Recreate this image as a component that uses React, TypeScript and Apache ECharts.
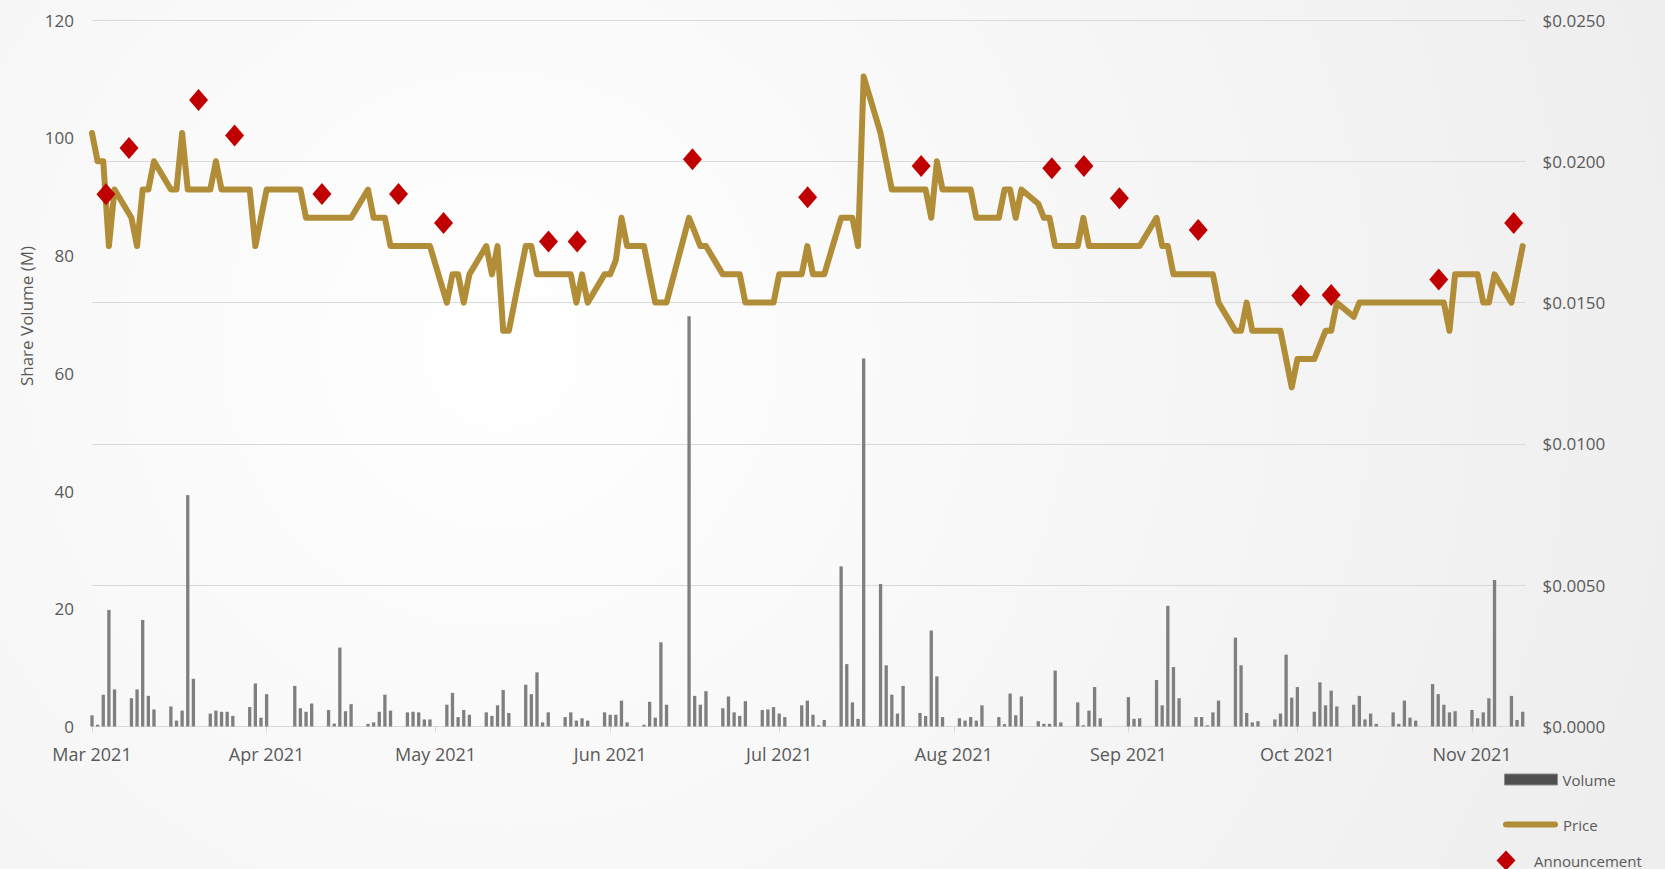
import React, { useEffect, useRef } from "react";
import * as echarts from "echarts";

// ---- Data ----
const tradeDates: string[] = [
  "2021-03-01", "2021-03-02", "2021-03-03", "2021-03-04", "2021-03-05",
  "2021-03-08", "2021-03-09", "2021-03-10", "2021-03-11", "2021-03-12",
  "2021-03-15", "2021-03-16", "2021-03-17", "2021-03-18", "2021-03-19",
  "2021-03-22", "2021-03-23", "2021-03-24", "2021-03-25", "2021-03-26",
  "2021-03-29", "2021-03-30", "2021-03-31", "2021-04-01",
  "2021-04-06", "2021-04-07", "2021-04-08", "2021-04-09",
  "2021-04-12", "2021-04-13", "2021-04-14", "2021-04-15", "2021-04-16",
  "2021-04-19", "2021-04-20", "2021-04-21", "2021-04-22", "2021-04-23",
  "2021-04-26", "2021-04-27", "2021-04-28", "2021-04-29", "2021-04-30",
  "2021-05-03", "2021-05-04", "2021-05-05", "2021-05-06", "2021-05-07",
  "2021-05-10", "2021-05-11", "2021-05-12", "2021-05-13", "2021-05-14",
  "2021-05-17", "2021-05-18", "2021-05-19", "2021-05-20", "2021-05-21",
  "2021-05-24", "2021-05-25", "2021-05-26", "2021-05-27", "2021-05-28",
  "2021-05-31", "2021-06-01", "2021-06-02", "2021-06-03", "2021-06-04",
  "2021-06-07", "2021-06-08", "2021-06-09", "2021-06-10", "2021-06-11",
  "2021-06-15", "2021-06-16", "2021-06-17", "2021-06-18",
  "2021-06-21", "2021-06-22", "2021-06-23", "2021-06-24", "2021-06-25",
  "2021-06-28", "2021-06-29", "2021-06-30", "2021-07-01", "2021-07-02",
  "2021-07-05", "2021-07-06", "2021-07-07", "2021-07-08", "2021-07-09",
  "2021-07-12", "2021-07-13", "2021-07-14", "2021-07-15", "2021-07-16",
  "2021-07-19", "2021-07-20", "2021-07-21", "2021-07-22", "2021-07-23",
  "2021-07-26", "2021-07-27", "2021-07-28", "2021-07-29", "2021-07-30",
  "2021-08-02", "2021-08-03", "2021-08-04", "2021-08-05", "2021-08-06",
  "2021-08-09", "2021-08-10", "2021-08-11", "2021-08-12", "2021-08-13",
  "2021-08-16", "2021-08-17", "2021-08-18", "2021-08-19", "2021-08-20",
  "2021-08-23", "2021-08-24", "2021-08-25", "2021-08-26", "2021-08-27",
  "2021-09-01", "2021-09-02", "2021-09-03",
  "2021-09-06", "2021-09-07", "2021-09-08", "2021-09-09", "2021-09-10",
  "2021-09-13", "2021-09-14", "2021-09-15", "2021-09-16", "2021-09-17",
  "2021-09-20", "2021-09-21", "2021-09-22", "2021-09-23", "2021-09-24",
  "2021-09-27", "2021-09-28", "2021-09-29", "2021-09-30", "2021-10-01",
  "2021-10-04", "2021-10-05", "2021-10-06", "2021-10-07", "2021-10-08",
  "2021-10-11", "2021-10-12", "2021-10-13", "2021-10-14", "2021-10-15",
  "2021-10-18", "2021-10-19", "2021-10-20", "2021-10-21", "2021-10-22",
  "2021-10-25", "2021-10-26", "2021-10-27", "2021-10-28", "2021-10-29",
  "2021-11-01", "2021-11-02", "2021-11-03", "2021-11-04", "2021-11-05",
  "2021-11-08", "2021-11-09", "2021-11-10",
];

// Share volume, millions
const volume: number[] = [
  1.9, 0.3, 5.4, 19.8, 6.3,
  4.8, 6.3, 18.1, 5.2, 2.9,
  3.4, 1.0, 2.7, 39.3, 8.1,
  2.2, 2.7, 2.5, 2.5, 1.8,
  3.3, 7.3, 1.5, 5.5,
  6.9, 3.1, 2.5, 3.9,
  2.8, 0.5, 13.4, 2.6, 3.8,
  0.45, 0.7, 2.5, 5.4, 2.7,
  2.4, 2.5, 2.4, 1.2, 1.2,
  3.7, 5.7, 1.6, 2.8, 2.0,
  2.4, 1.8, 3.6, 6.2, 2.3,
  7.1, 5.5, 9.2, 0.7, 2.4,
  1.6, 2.4, 1.0, 1.4, 1.0,
  2.4, 2.0, 2.0, 4.4, 0.7,
  0.3, 4.2, 1.5, 14.3, 3.7,
  69.7, 5.2, 3.7, 6.0,
  3.1, 5.1, 2.4, 1.8, 4.3,
  2.8, 2.9, 3.3, 2.2, 1.6,
  3.6, 4.4, 2.0, 0.2, 1.1,
  27.2, 10.6, 4.1, 1.3, 62.5,
  24.2, 10.4, 5.4, 2.2, 6.9,
  2.3, 1.8, 16.3, 8.5, 1.6,
  1.4, 1.0, 1.6, 1.0, 3.6,
  1.6, 0.4, 5.6, 1.9, 5.1,
  0.9, 0.45, 0.45, 9.5, 0.7,
  4.1, 0.2, 2.7, 6.7, 1.4,
  5.0, 1.3, 1.4,
  7.9, 3.6, 20.5, 10.1, 4.8,
  1.6, 1.6, 0.2, 2.4, 4.4,
  15.1, 10.4, 2.3, 0.7, 0.9,
  1.2, 2.2, 12.2, 4.9, 6.7,
  2.5, 7.5, 3.6, 6.1, 3.4,
  3.7, 5.2, 1.2, 2.2, 0.45,
  2.4, 0.45, 4.4, 1.5, 1.0,
  7.2, 5.5, 3.7, 2.4, 2.6,
  2.8, 1.4, 2.4, 4.8, 24.9,
  5.2, 1.1, 2.5,
];

// Closing price, $
const price: number[] = [
  0.021, 0.020, 0.020, 0.017, 0.019,
  0.018, 0.017, 0.019, 0.019, 0.020,
  0.019, 0.019, 0.021, 0.019, 0.019,
  0.019, 0.020, 0.019, 0.019, 0.019,
  0.019, 0.017, 0.018, 0.019,
  0.019, 0.019, 0.018, 0.018,
  0.018, 0.018, 0.018, 0.018, 0.018,
  0.019, 0.018, 0.018, 0.018, 0.017,
  0.017, 0.017, 0.017, 0.017, 0.017,
  0.015, 0.016, 0.016, 0.015, 0.016,
  0.017, 0.016, 0.017, 0.014, 0.014,
  0.017, 0.017, 0.016, 0.016, 0.016,
  0.016, 0.016, 0.015, 0.016, 0.015,
  0.016, 0.016, 0.0165, 0.018, 0.017,
  0.017, 0.016, 0.015, 0.015, 0.015,
  0.018, 0.0175, 0.017, 0.017,
  0.016, 0.016, 0.016, 0.016, 0.015,
  0.015, 0.015, 0.015, 0.016, 0.016,
  0.016, 0.017, 0.016, 0.016, 0.016,
  0.018, 0.018, 0.018, 0.017, 0.023,
  0.021, 0.020, 0.019, 0.019, 0.019,
  0.019, 0.019, 0.018, 0.020, 0.019,
  0.019, 0.019, 0.019, 0.018, 0.018,
  0.018, 0.019, 0.019, 0.018, 0.019,
  0.0185, 0.018, 0.018, 0.017, 0.017,
  0.017, 0.018, 0.017, 0.017, 0.017,
  0.017, 0.017, 0.017,
  0.018, 0.017, 0.017, 0.016, 0.016,
  0.016, 0.016, 0.016, 0.016, 0.015,
  0.014, 0.014, 0.015, 0.014, 0.014,
  0.014, 0.014, 0.013, 0.012, 0.013,
  0.013, 0.0135, 0.014, 0.014, 0.015,
  0.0145, 0.015, 0.015, 0.015, 0.015,
  0.015, 0.015, 0.015, 0.015, 0.015,
  0.015, 0.015, 0.015, 0.014, 0.016,
  0.016, 0.016, 0.015, 0.015, 0.016,
  0.015, 0.016, 0.017,
];

const announcementTimes: string[] = [
  "2021-03-03T11:30Z", "2021-03-07T13:40Z", "2021-03-19T22:00Z", "2021-03-26T07:30Z",
  "2021-04-10T19:40Z", "2021-04-24T10:00Z", "2021-05-02T09:50Z", "2021-05-21T01:00Z",
  "2021-05-26T03:20Z", "2021-06-15T14:20Z", "2021-07-06T01:10Z", "2021-07-26T04:50Z",
  "2021-08-18T09:40Z", "2021-08-24T02:20Z", "2021-08-30T09:40Z", "2021-09-13T09:40Z",
  "2021-10-01T14:20Z", "2021-10-07T00:00Z", "2021-10-26T02:20Z", "2021-11-08T09:40Z",
];
const announcementValues: number[] = [
  0.01883, 0.02047, 0.02217, 0.02091,
  0.01884, 0.01884, 0.01782, 0.01716,
  0.01716, 0.02007, 0.01873, 0.01983,
  0.01975, 0.01983, 0.01869, 0.01757,
  0.01525, 0.01527, 0.01582, 0.01782,
];

const monthTicks: string[] = [
  "2021-03-01", "2021-04-01", "2021-05-01", "2021-06-01", "2021-07-01",
  "2021-08-01", "2021-09-01", "2021-10-01", "2021-11-01",
];
const monthNames: string[] = ["Jan", "Feb", "Mar", "Apr", "May", "Jun", "Jul", "Aug", "Sep", "Oct", "Nov", "Dec"];
const axisStart = "2021-03-01";
const axisEnd = "2021-11-10T12:00Z";
const volumeAxisTitle = "Share Volume (M)";

const FONT = "Open Sans";
const LABEL = "#595959";
const DAY = 86400000;

export default function App() {
  const ref = useRef<HTMLDivElement>(null);

  useEffect(() => {
    document.body.style.margin = "0";
    if (!ref.current) return;
    const chart = echarts.init(ref.current, undefined, { renderer: "svg" });

    const t0 = Date.parse(axisStart);
    // day number since the axis start (UTC)
    const dn = (s: string) => (Date.parse(s) - t0) / DAY;
    const volData = tradeDates.map((d, i) => [dn(d), volume[i]]);
    const priceData = tradeDates.map((d, i) => [dn(d), price[i]]);
    const annData = announcementTimes.map((d, i) => [dn(d), announcementValues[i]]);
    const monthDays = monthTicks.map(dn);

    chart.setOption({
      animation: false,
      backgroundColor: new echarts.graphic.RadialGradient(
        500, 350, 1300,
        [
          { offset: 0, color: "#ffffff" },
          { offset: 1, color: "#ededed" },
        ],
        true
      ),
      textStyle: { fontFamily: FONT },
      grid: { left: 92, right: 139.5, top: 20, bottom: 142.5, containLabel: false },
      graphic: [
        {
          type: "text",
          x: 26,
          y: 316,
          rotation: Math.PI / 2,
          style: {
            text: volumeAxisTitle,
            align: "center",
            verticalAlign: "middle",
            fill: LABEL,
            fontSize: 17,
            fontFamily: FONT,
          },
        },
      ],
      xAxis: {
        type: "value",
        min: 0,
        max: dn(axisEnd),
        axisLine: { show: true, onZero: false, lineStyle: { color: "#d9d9d9", width: 1 } },
        axisTick: {
          show: true,
          customValues: monthDays,
          length: 6,
          lineStyle: { color: "#d9d9d9", width: 1 },
        },
        axisLabel: {
          customValues: monthDays,
          formatter: (v: number) => {
            const d = new Date(t0 + Math.round(v) * DAY);
            return monthNames[d.getUTCMonth()] + " " + d.getUTCFullYear();
          },
          color: LABEL,
          fontSize: 18,
          fontFamily: FONT,
          margin: 18,
          showMinLabel: true,
          showMaxLabel: true,
        },
        splitLine: { show: false },
      },
      yAxis: [
        {
          type: "value",
          min: 0,
          max: 120,
          interval: 20,
          axisLine: { show: false },
          axisTick: { show: false },
          splitLine: { show: false },
          axisLabel: { color: LABEL, fontSize: 17, fontFamily: FONT, margin: 18 },
        },
        {
          type: "value",
          min: 0,
          max: 0.025,
          interval: 0.005,
          position: "right",
          axisLine: { show: false },
          axisTick: { show: false },
          splitLine: { show: true, lineStyle: { color: "#d9d9d9", width: 1 } },
          axisLabel: {
            color: LABEL,
            fontSize: 17,
            fontFamily: FONT,
            margin: 17,
            formatter: (v: number) => "$" + v.toFixed(4),
          },
        },
      ],
      legend: [
        {
          selectedMode: false,
          left: 1504,
          top: 772,
          padding: 0,
          itemWidth: 53,
          itemHeight: 11,
          textStyle: { color: LABEL, fontSize: 15, fontFamily: FONT },
          data: [
            {
              name: "Volume",
              icon: "rect",
              itemStyle: { color: "#505050", borderColor: "#8c8c8c", borderWidth: 1 },
            },
          ],
        },
        {
          selectedMode: false,
          left: 1503,
          top: 817,
          padding: 0,
          itemWidth: 55,
          itemHeight: 6,
          textStyle: { color: LABEL, fontSize: 15, fontFamily: FONT },
          data: [
            {
              name: "Price",
              icon: "path://M3,0 H52 A3,3 0 0 1 52,6 H3 A3,3 0 0 1 3,0 Z",
              itemStyle: { color: "#B08D36", borderWidth: 0 },
            },
          ],
        },
        {
          selectedMode: false,
          left: 1483,
          top: 850.5,
          padding: 0,
          itemWidth: 46,
          itemHeight: 20,
          textStyle: { color: LABEL, fontSize: 15, fontFamily: FONT },
          data: [
            {
              name: "Announcement",
              icon: "path://M0,0 M46,20 M23,0 L32.5,10 L23,20 L13.5,10 Z",
              itemStyle: { color: "#C00000", borderWidth: 0, opacity: 1 },
            },
          ],
        },
      ],
      series: [
        {
          name: "Volume",
          type: "bar",
          yAxisIndex: 0,
          data: volData,
          barWidth: 3.3,
          itemStyle: { color: "#7f7f7f" },
          z: 2,
        },
        {
          name: "Price",
          type: "line",
          yAxisIndex: 1,
          data: priceData,
          symbol: "none",
          showSymbol: false,
          lineStyle: { color: "#B08D36", width: 6, cap: "round", join: "round" },
          itemStyle: { color: "#B08D36" },
          z: 3,
        },
        {
          name: "Announcement",
          type: "scatter",
          yAxisIndex: 1,
          data: annData,
          symbol: "diamond",
          symbolSize: [19, 22],
          itemStyle: { color: "#C00000", opacity: 1 },
          z: 4,
        },
      ],
    });

    return () => chart.dispose();
  }, []);

  return <div ref={ref} style={{ width: 1665, height: 869 }} />;
}
